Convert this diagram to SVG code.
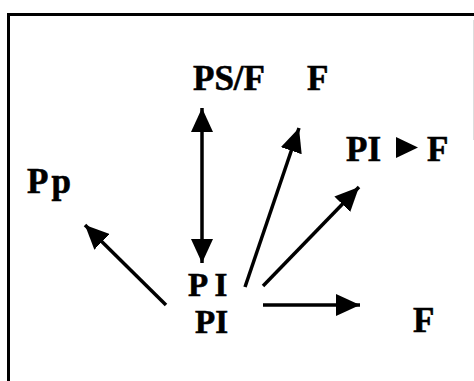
<svg xmlns="http://www.w3.org/2000/svg" width="474" height="381" viewBox="0 0 474 381">
  <style>
    .lbl { font-family: "Liberation Serif", "Times New Roman", serif; font-weight: bold; font-size: 35px; fill: #000; stroke: #000; stroke-width: 0.6; }
    .ctr { font-size: 33px; }
    .conn { stroke: #000; stroke-width: 3.5; fill: none; }
  </style>
  <defs>
    <marker id="ah" viewBox="0 0 24 22" refX="24" refY="11" markerWidth="24" markerHeight="22" markerUnits="userSpaceOnUse" orient="auto-start-reverse">
      <path d="M0,0 L24,11 L0,22 z" fill="#000"/>
    </marker>
  </defs>
  <rect width="474" height="381" fill="#fff"/>
  <g id="frame">
    <path d="M8.5,381 V14.5 H474" fill="none" stroke="#000" stroke-width="3"/>
    <line x1="473.5" y1="20" x2="473.5" y2="140" stroke="#ddd" stroke-width="1"/>
  </g>
  <g id="connectors">
    <line class="conn" x1="202" y1="263" x2="202" y2="108" marker-start="url(#ah)" marker-end="url(#ah)"/>
    <line class="conn" x1="245" y1="287" x2="299" y2="128" marker-end="url(#ah)"/>
    <line class="conn" x1="263" y1="286" x2="359" y2="187" marker-end="url(#ah)"/>
    <line class="conn" x1="263" y1="305" x2="360" y2="305" marker-end="url(#ah)"/>
    <line class="conn" x1="166" y1="305" x2="85" y2="225" marker-end="url(#ah)"/>
  </g>
  <g id="node-psf"><text class="lbl" x="193" y="90">PS/F</text></g>
  <g id="node-f-top"><text class="lbl" x="307" y="90">F</text></g>
  <g id="node-pi-f">
    <text class="lbl" x="346" y="161">PI</text>
    <path d="M396,137 L418,147.5 L396,158 z" fill="#000"/>
    <text class="lbl" x="427" y="161">F</text>
  </g>
  <g id="node-pp"><text class="lbl" x="27" y="193" letter-spacing="3">Pp</text></g>
  <g id="node-center">
    <text class="lbl ctr" x="188" y="296">P I</text>
    <text class="lbl ctr" x="195" y="333">PI</text>
  </g>
  <g id="node-f-bottom"><text class="lbl" x="413" y="332">F</text></g>
</svg>
